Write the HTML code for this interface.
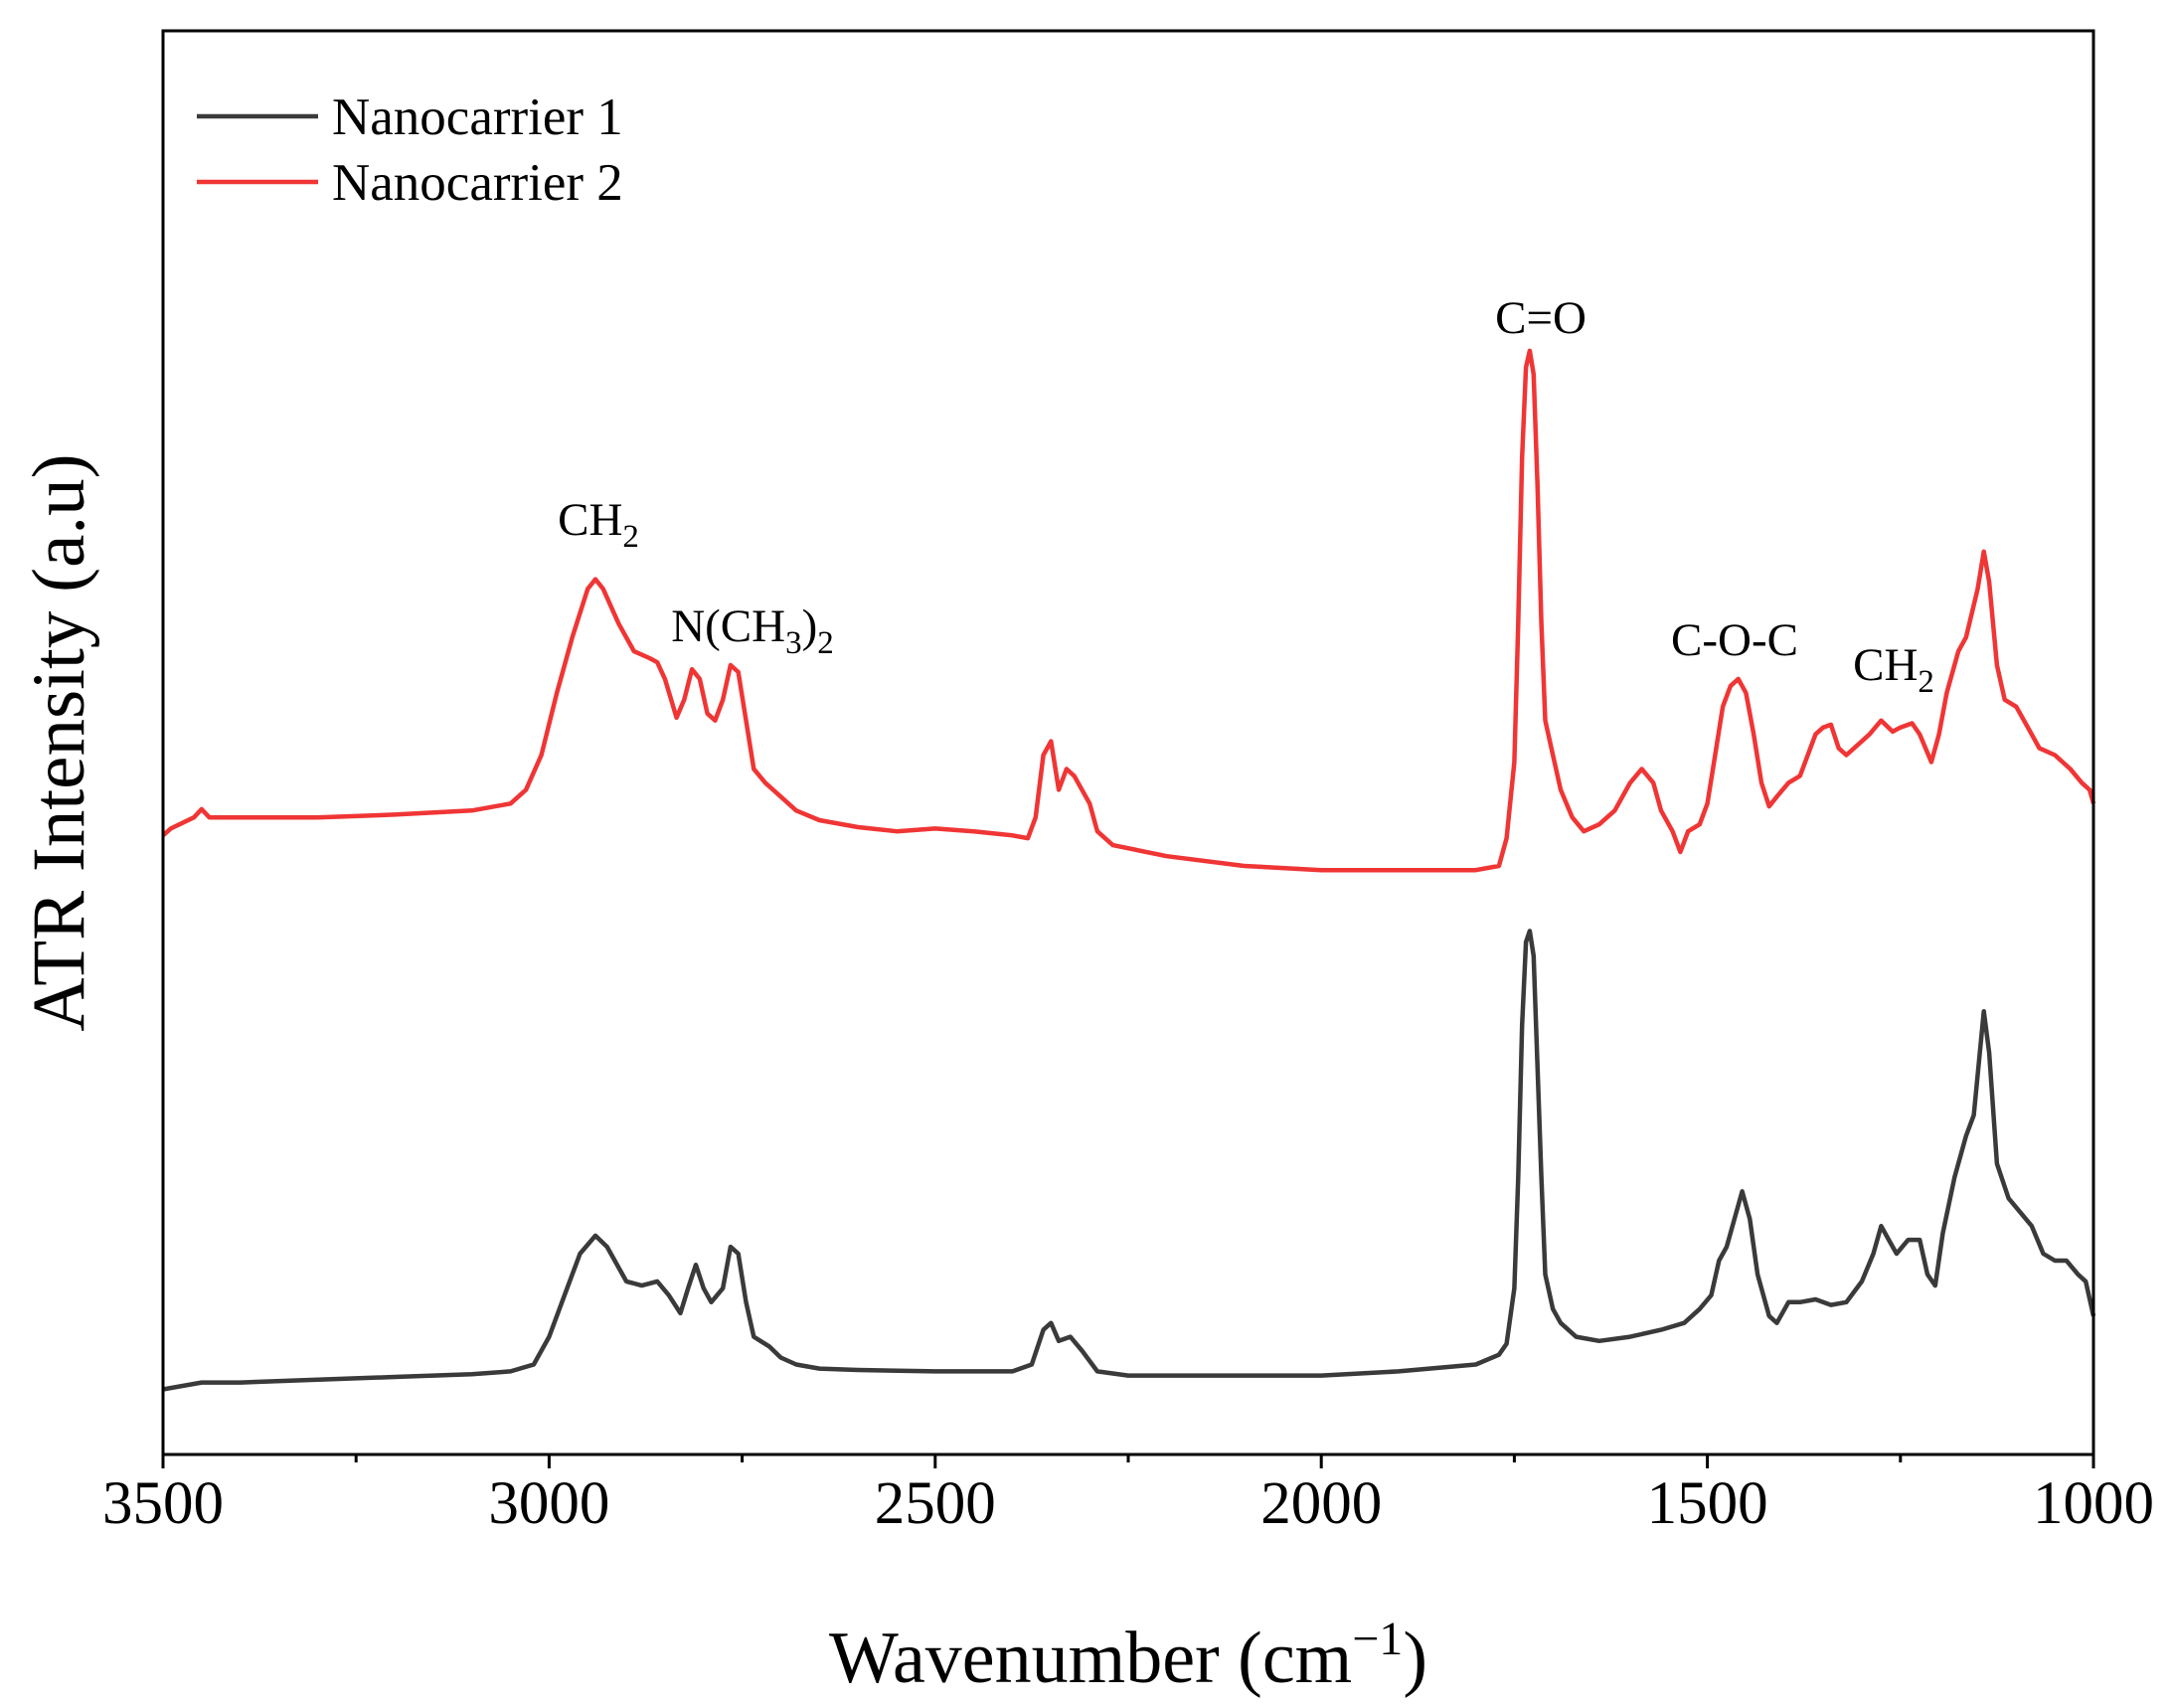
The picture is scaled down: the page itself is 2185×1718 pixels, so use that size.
<!DOCTYPE html>
<html><head><meta charset="utf-8"><style>
html,body{margin:0;padding:0;background:#fff;}
svg{display:block;font-family:"Liberation Serif",serif;}
</style></head><body>
<svg id="chart" width="2185" height="1718" viewBox="0 0 2185 1718" xmlns="http://www.w3.org/2000/svg">
<g id="marks"></g>
<rect x="164" y="31" width="1942" height="1432" fill="none" stroke="#000" stroke-width="3"/>
<g id="ticks"></g>
<text x="1135" y="1692" font-size="74" text-anchor="middle">Wavenumber (cm<tspan dy="-28" font-size="48">−1</tspan><tspan dy="28">)</tspan></text>
<text transform="translate(84,747) rotate(-90)" font-size="75" text-anchor="middle">ATR Intensity (a.u)</text>
<g>
<line x1="198" y1="117" x2="320" y2="117" stroke="#3a3a3a" stroke-width="4.5"/>
<text x="334" y="135" font-size="53">Nanocarrier 1</text>
<line x1="198" y1="183" x2="320" y2="183" stroke="#f03535" stroke-width="4.5"/>
<text x="334" y="201" font-size="53">Nanocarrier 2</text>
</g>
<g font-size="47" text-anchor="middle">
<text x="602" y="538">CH<tspan dy="12" font-size="33">2</tspan></text>
<text x="757" y="645">N(CH<tspan dy="12" font-size="33">3</tspan><tspan dy="-12">)</tspan><tspan dy="12" font-size="33">2</tspan></text>
<text x="1550" y="335">C=O</text>
<text x="1745" y="659">C-O-C</text>
<text x="1905" y="684">CH<tspan dy="12" font-size="33">2</tspan></text>
</g>
</svg>
<script>
const xTicks=[3500,3000,2500,2000,1500,1000];
const xMinor=[3250,2750,2250,1750,1250];
const wave2=[3500,3490,3460,3450,3440,3400,3300,3200,3100,3050,3030,3010,2990,2970,2950,2940,2930,2910,2890,2870,2860,2850,2835,2825,2815,2805,2795,2785,2775,2765,2755,2745,2735,2720,2700,2680,2650,2600,2550,2500,2450,2400,2380,2370,2360,2350,2340,2330,2320,2300,2290,2270,2200,2100,2000,1900,1800,1770,1760,1750,1745,1740,1735,1730,1725,1720,1715,1710,1700,1690,1675,1660,1640,1620,1600,1585,1570,1560,1545,1535,1525,1510,1500,1490,1480,1470,1460,1450,1440,1430,1420,1410,1395,1380,1370,1360,1350,1340,1330,1320,1300,1290,1275,1260,1250,1235,1225,1210,1200,1190,1175,1165,1150,1142,1135,1125,1115,1100,1085,1070,1050,1030,1015,1005,1000];
const ydisp2=[603,598,590,584,590,590,590,588,585,580,570,545,500,460,425,418,425,450,470,475,478,490,518,505,483,490,515,520,505,480,485,520,555,565,575,585,592,597,600,598,600,603,605,590,545,535,570,555,560,580,600,610,618,625,628,628,628,625,605,550,450,330,265,253,270,350,450,520,545,570,590,600,595,585,565,555,565,585,600,615,600,595,580,545,510,495,490,500,530,565,582,575,565,560,545,530,525,523,540,545,535,530,520,528,525,522,530,550,530,500,470,460,425,398,420,480,505,510,525,540,545,555,565,570,580];
const wave1=[3500,3450,3400,3300,3200,3100,3050,3020,3000,2980,2960,2940,2925,2900,2880,2860,2845,2830,2820,2810,2800,2790,2775,2765,2755,2745,2735,2715,2700,2680,2650,2600,2500,2400,2375,2360,2350,2340,2325,2310,2290,2250,2100,2000,1900,1800,1770,1760,1750,1745,1740,1735,1730,1725,1720,1715,1710,1700,1690,1670,1640,1600,1560,1530,1510,1495,1485,1475,1465,1455,1445,1435,1420,1410,1395,1380,1360,1340,1320,1300,1285,1275,1265,1255,1240,1225,1215,1205,1195,1180,1165,1155,1142,1135,1125,1110,1095,1080,1065,1050,1035,1020,1010,1000];
const ydisp1=[1003,998,998,996,994,992,990,985,965,935,905,892,900,925,928,925,935,948,930,913,930,940,930,900,905,940,965,972,980,985,988,989,990,990,985,960,955,968,965,975,990,993,993,993,990,985,978,970,930,850,740,680,672,690,770,850,920,945,955,965,968,965,960,955,945,935,910,900,880,860,880,920,950,955,940,940,938,942,940,925,905,885,895,905,895,895,920,928,890,850,820,805,730,760,840,865,875,885,905,910,910,920,925,950];
const int2=ydisp2.map(v=>1050-v);
const int1=ydisp1.map(v=>1050-v);
const X0=164,X1=2106,Y0=31,Y1=1463;
const xs=w=>X0+(3500-w)/(3500-1000)*(X1-X0);
const ys=v=>Y1-v/1028*(Y1-Y0);
const NS="http://www.w3.org/2000/svg";
const marks=document.getElementById('marks');
function series(w,v,color,name){
  const p=document.createElementNS(NS,'path');
  p.setAttribute('d',w.map((x,i)=>(i?'L':'M')+xs(x).toFixed(1)+' '+ys(v[i]).toFixed(1)).join(''));
  p.setAttribute('fill','none');p.setAttribute('stroke',color);p.setAttribute('stroke-width','4.5');
  p.setAttribute('stroke-linejoin','round');
  
  
  marks.appendChild(p);
}
series(wave1,int1,'#3a3a3a','series-nanocarrier-1');
series(wave2,int2,'#f03535','series-nanocarrier-2');
const tg=document.getElementById('ticks');
xTicks.forEach(t=>{
  const l=document.createElementNS(NS,'line');
  l.setAttribute('x1',xs(t));l.setAttribute('x2',xs(t));l.setAttribute('y1',Y1);l.setAttribute('y2',Y1+14);
  l.setAttribute('stroke','#000');l.setAttribute('stroke-width','3');
  
  
  tg.appendChild(l);
  const tx=document.createElementNS(NS,'text');
  tx.setAttribute('x',xs(t));tx.setAttribute('y',1532);tx.setAttribute('font-size','61');tx.setAttribute('text-anchor','middle');
  tx.textContent=t;
  
  
  tg.appendChild(tx);
});
xMinor.forEach(t=>{
  const l=document.createElementNS(NS,'line');
  l.setAttribute('x1',xs(t));l.setAttribute('x2',xs(t));l.setAttribute('y1',Y1);l.setAttribute('y2',Y1+8);
  l.setAttribute('stroke','#000');l.setAttribute('stroke-width','3');
  
  
  tg.appendChild(l);
});
</script>
</body></html>
